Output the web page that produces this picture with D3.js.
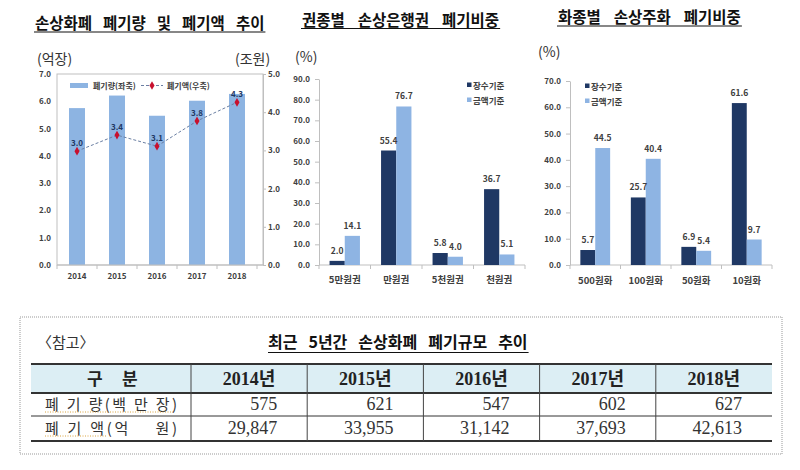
<!DOCTYPE html>
<html><head><meta charset="utf-8">
<script src="https://cdn.jsdelivr.net/npm/d3@7"></script>
<style>
body{margin:0;background:#fff;}
svg{display:block;}
</style></head><body>
<svg id="c" width="800" height="470"></svg>
<script>
// ---------- data ----------
const years = ["2014","2015","2016","2017","2018"];
const volume = [5.75, 6.21, 5.47, 6.02, 6.27];      // 억장 (left axis)
const amount = [2.98, 3.40, 3.11, 3.77, 4.26];      // 조원 (right axis)
const amountLabels = ["3.0","3.4","3.1","3.8","4.3"];
const leftTicks = [0,1,2,3,4,5,6,7];
const rightTicks = [0,1,2,3,4,5];

const seriesNames = ["장수기준","금액기준"];
const noteCats = ["5만원권","만원권","5천원권","천원권"];
const noteCount = [2.0, 55.4, 5.8, 36.7];
const noteValue = [14.1, 76.7, 4.0, 5.1];
const noteTicks = [0,10,20,30,40,50,60,70,80,90];

const coinCats = ["500원화","100원화","50원화","10원화"];
const coinCount = [5.7, 25.7, 6.9, 61.6];
const coinValue = [44.5, 40.4, 5.4, 9.7];
const coinTicks = [0,10,20,30,40,50,60,70];

const tableYears = ["2014년","2015년","2016년","2017년","2018년"];
const rowLabels = ["폐 기 량(백 만 장)","폐 기 액(억    원)"];
const tableVolume = [575, 621, 547, 602, 627];
const tableAmount = [29847, 33955, 31142, 37693, 42613];

// ---------- style ----------
const svg = d3.select("#c");
const F = '"Noto Sans CJK KR","Noto Sans",sans-serif';
const SERIF = '"Liberation Serif","DejaVu Serif","Noto Sans CJK KR",serif';
const NAVY = "#1F3864", LIGHT = "#8EB4E3", BAR1 = "#8DB4E2", AX = "#bfbfbf", TXT = "#404040";
const fmt1 = d3.format(".1f");

function title(words, x, y, gap, uy){
  const t = svg.append("text").attr("x", x).attr("y", y)
    .attr("font-family", F).attr("font-size", 15.5).attr("font-weight", 700).attr("fill", "#111");
  words.forEach((w,i) => t.append("tspan").attr("dx", i ? gap : 0).text(w));
  const bb = t.node().getBBox();
  svg.append("line").attr("x1", bb.x - 1).attr("x2", bb.x + bb.width + 1)
    .attr("y1", uy).attr("y2", uy).attr("stroke", "#111").attr("stroke-width", 1.2);
}
function unit(txt, x, y){
  svg.append("text").attr("x", x).attr("y", y).attr("font-family", F)
    .attr("font-size", 14).attr("fill", "#333").text(txt);
}
function styleAxis(g, size){
  g.select(".domain").attr("stroke", AX);
  g.selectAll(".tick line").attr("stroke", AX);
  g.selectAll(".tick text").attr("font-family", F).attr("font-size", size || 8.5)
    .attr("font-weight", 700).attr("fill", TXT);
}
function bandAxisBottom(x, y0, xEnd){
  const r = x.range();
  svg.append("line").attr("x1", r[0]).attr("x2", xEnd).attr("y1", y0).attr("y2", y0).attr("stroke", AX);
  const n = x.domain().length;
  svg.selectAll(null).data(d3.range(n + 1)).join("line")
    .attr("x1", i => r[0] + i * x.step()).attr("x2", i => r[0] + i * x.step())
    .attr("y1", y0).attr("y2", y0 + 4).attr("stroke", AX);
}

// ================= Chart 1 =================
title(["손상화폐","폐기량","및","폐기액","추이"], 35, 28.5, 11, 32);
unit("(억장)", 37, 64);
unit("(조원)", 235, 64);

const x1 = d3.scaleBand().domain(years).range([57, 257]).paddingInner(0.6).paddingOuter(0.3);
const yL = d3.scaleLinear().domain([0, 7]).range([265, 74]);
const yR = d3.scaleLinear().domain([0, 5]).range([265, 74]);
const rightX = 263;

svg.append("rect").attr("x", x1.range()[0]).attr("y", yL(7))
  .attr("width", rightX - x1.range()[0]).attr("height", yL(0) - yL(7))
  .attr("fill", "none").attr("stroke", AX);

svg.append("g").selectAll("rect").data(years).join("rect")
  .attr("x", d => x1(d)).attr("width", x1.bandwidth())
  .attr("y", (d,i) => yL(volume[i])).attr("height", (d,i) => yL(0) - yL(volume[i]))
  .attr("fill", BAR1);

svg.append("g").attr("transform", `translate(${x1.range()[0]},0)`)
  .call(d3.axisLeft(yL).tickValues(leftTicks).tickFormat(fmt1).tickSize(0).tickPadding(6))
  .call(g => { styleAxis(g, 8); g.select(".domain").remove(); });
svg.append("g").attr("transform", `translate(${rightX},0)`)
  .call(d3.axisRight(yR).tickValues(rightTicks).tickFormat(fmt1).tickSize(3).tickPadding(2).tickSizeOuter(0))
  .call(g => styleAxis(g, 8));
bandAxisBottom(x1, yL(0), rightX);
svg.append("g").selectAll("text").data(years).join("text")
  .attr("x", d => x1(d) + x1.bandwidth()/2).attr("y", 279).attr("text-anchor", "middle")
  .attr("font-family", F).attr("font-size", 8).attr("font-weight", 700).attr("fill", TXT).text(d => d);

const cx1 = (d,i) => x1(years[i]) + x1.bandwidth()/2;
svg.append("path").datum(amount)
  .attr("d", d3.line().x(cx1).y(d => yR(d)))
  .attr("fill", "none").attr("stroke", "#6B7FA3").attr("stroke-width", 1).attr("stroke-dasharray", "3,2");
svg.append("g").selectAll("path").data(amount).join("path")
  .attr("transform", (d,i) => `translate(${cx1(d,i)},${yR(d)})`)
  .attr("d", d3.symbol(d3.symbolDiamond, 22)).attr("fill", "#C8102E");
svg.append("g").selectAll("text").data(amount).join("text")
  .attr("x", cx1).attr("y", d => yR(d) - 5).attr("text-anchor", "middle")
  .attr("font-family", F).attr("font-size", 8).attr("font-weight", 700).attr("fill", NAVY)
  .text((d,i) => amountLabels[i]);

// legend chart 1
svg.append("rect").attr("x", 70).attr("y", 83).attr("width", 18).attr("height", 5).attr("fill", BAR1);
svg.append("text").attr("x", 93).attr("y", 88.5).attr("font-family", F).attr("font-size", 8)
  .attr("font-weight", 700).attr("fill", TXT).text("폐기량(좌축)");
svg.append("line").attr("x1", 141).attr("x2", 163).attr("y1", 85.5).attr("y2", 85.5)
  .attr("stroke", "#6B7FA3").attr("stroke-dasharray", "3,2");
svg.append("path").attr("transform", "translate(152,85.5)").attr("d", d3.symbol(d3.symbolDiamond, 22)).attr("fill", "#C8102E");
svg.append("text").attr("x", 167).attr("y", 88.5).attr("font-family", F).attr("font-size", 8)
  .attr("font-weight", 700).attr("fill", TXT).text("폐기액(우축)");

// ================= grouped bar charts =================
function grouped(cats, s1, s2, ticks, xr, yTop, maxV, legX, legY, labelY){
  const x = d3.scaleBand().domain(cats).range(xr).paddingInner(0.41).paddingOuter(0.205);
  const xs = d3.scaleBand().domain(seriesNames).range([0, x.bandwidth()]);
  const y = d3.scaleLinear().domain([0, maxV]).range([265, yTop]);
  svg.append("g").attr("transform", `translate(${xr[0]},0)`)
    .call(d3.axisLeft(y).tickValues(ticks).tickFormat(fmt1).tickSize(4).tickPadding(5).tickSizeOuter(0))
    .call(g => styleAxis(g, 8));
  bandAxisBottom(x, y(0), xr[1]);
  const data = [];
  cats.forEach((c,i) => { data.push({c, s: seriesNames[0], v: s1[i]}); data.push({c, s: seriesNames[1], v: s2[i]}); });
  svg.append("g").selectAll("rect").data(data).join("rect")
    .attr("x", d => x(d.c) + xs(d.s)).attr("width", xs.bandwidth())
    .attr("y", d => y(d.v)).attr("height", d => y(0) - y(d.v))
    .attr("fill", d => d.s === seriesNames[0] ? NAVY : LIGHT);
  svg.append("g").selectAll("text").data(data).join("text")
    .attr("x", d => x(d.c) + xs(d.s) + xs.bandwidth()/2).attr("y", d => y(d.v) - 7)
    .attr("text-anchor", "middle").attr("font-family", F).attr("font-size", 8.5).attr("font-weight", 700)
    .attr("fill", TXT).text(d => fmt1(d.v));
  svg.append("g").selectAll("text").data(cats).join("text")
    .attr("x", d => x(d) + x.bandwidth()/2).attr("y", labelY).attr("text-anchor", "middle")
    .attr("font-family", F).attr("font-size", 9.5).attr("font-weight", 700).attr("fill", TXT).text(d => d);
  seriesNames.forEach((s,i) => {
    svg.append("rect").attr("x", legX).attr("y", legY + i*15 - 2.5).attr("width", 4.5).attr("height", 4.5)
      .attr("fill", i ? LIGHT : NAVY);
    svg.append("text").attr("x", legX + 6).attr("y", legY + i*15 + 3.5).attr("font-family", F)
      .attr("font-size", 8.5).attr("font-weight", 700).attr("fill", TXT).text(s);
  });
}

// Chart 2
title(["권종별","손상은행권","폐기비중"], 302, 26, 13, 28.5);
unit("(%)", 295, 62);
grouped(noteCats, noteCount, noteValue, noteTicks, [319, 525], 79, 90, 467, 85, 283);

// Chart 3
title(["화종별","손상주화","폐기비중"], 558, 23, 13, 26);
unit("(%)", 538, 57);
grouped(coinCats, coinCount, coinValue, coinTicks, [570, 772], 81, 70, 585, 86, 284);

// ================= reference table =================
svg.append("rect").attr("x", 20).attr("y", 317).attr("width", 762).attr("height", 137)
  .attr("fill", "none").attr("stroke", "#999").attr("stroke-dasharray", "1,1");
svg.append("text").attr("x", 37).attr("y", 347.5).attr("font-family", F).attr("font-size", 15)
  .attr("fill", "#333").text("〈참고〉");
(function(){
  const words = ["최근","5년간","손상화폐","폐기규모","추이"];
  const t = svg.append("text").attr("x", 268).attr("y", 348).attr("font-family", F)
    .attr("font-size", 16).attr("font-weight", 700).attr("fill", "#111");
  words.forEach((w,i) => t.append("tspan").attr("dx", i ? 11 : 0).text(w));
  const bb = t.node().getBBox();
  svg.append("line").attr("x1", bb.x).attr("x2", bb.x + bb.width + 1).attr("y1", 352.5).attr("y2", 352.5)
    .attr("stroke", "#111").attr("stroke-width", 1.2);
})();

const tx = d3.scaleBand().domain(tableYears).range([191, 772]);
const tL = 31, tR = 772;
const rowsY = [364, 393, 416, 441];
svg.append("rect").attr("x", tL).attr("y", rowsY[0]).attr("width", tR - tL).attr("height", rowsY[1] - rowsY[0])
  .attr("fill", "#DCEEF4");
// horizontal lines
[[rowsY[0], 2], [rowsY[1], 1.8], [rowsY[2], 1], [rowsY[3], 1.8]].forEach(([y,w]) =>
  svg.append("line").attr("x1", tL).attr("x2", tR).attr("y1", y).attr("y2", y).attr("stroke", "#333").attr("stroke-width", w));
// vertical lines
svg.selectAll(null).data(tableYears).join("line")
  .attr("x1", d => tx(d)).attr("x2", d => tx(d)).attr("y1", rowsY[0]).attr("y2", rowsY[3])
  .attr("stroke", "#444").attr("stroke-width", 1);
// header
const hdr = svg.append("text").attr("y", 385).attr("font-family", F).attr("font-size", 17)
  .attr("font-weight", 700).attr("fill", "#222");
hdr.append("tspan").attr("x", 87).text("구");
hdr.append("tspan").attr("x", 122).text("분");
svg.selectAll(null).data(tableYears).join("text")
  .attr("x", d => tx(d) + tx.bandwidth()/2).attr("y", 385).attr("text-anchor", "middle")
  .attr("font-family", SERIF).attr("font-size", 18).attr("font-weight", 700).attr("fill", "#222").text(d => d);
// row labels
rowLabels.forEach((l,i) => {
  svg.append("text").attr("x", 45).attr("y", 410 + i*24).attr("font-family", F).attr("font-size", 15)
    .attr("fill", "#333").attr("textLength", 132).attr("lengthAdjust", "spacing")
    .style("white-space", "pre").text(l);
});
svg.append("line").attr("x1", 45).attr("x2", 173).attr("y1", 412).attr("y2", 412)
  .attr("stroke", "#D9A441").attr("stroke-dasharray", "1,1.5");
svg.append("line").attr("x1", 45).attr("x2", 107).attr("y1", 436).attr("y2", 436)
  .attr("stroke", "#D9A441").attr("stroke-dasharray", "1,1.5");
// values
const comma = d3.format(",");
[tableVolume, tableAmount].forEach((arr, r) => {
  svg.selectAll(null).data(arr).join("text")
    .attr("x", (d,i) => tx(tableYears[i]) + tx.bandwidth() - 30).attr("y", 410 + r*24)
    .attr("text-anchor", "end").attr("font-family", SERIF).attr("font-size", 18)
    .attr("fill", "#333").text(d => comma(d));
});
</script>
</body></html>
